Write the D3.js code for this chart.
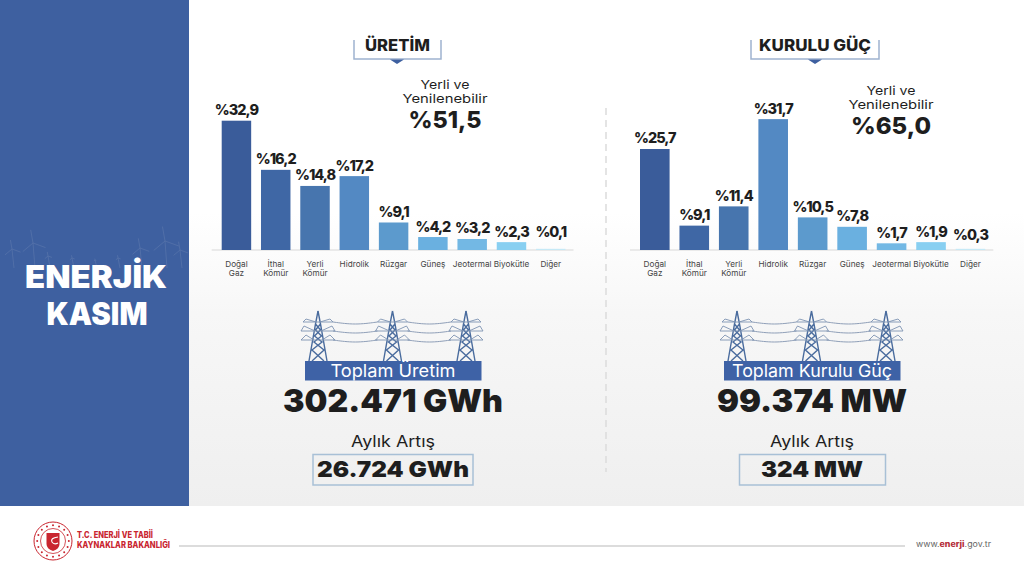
<!DOCTYPE html>
<html>
<head>
<meta charset="utf-8">
<script src="https://cdnjs.cloudflare.com/ajax/libs/d3/7.8.5/d3.min.js"></script>
<style>
  html, body { margin: 0; padding: 0; background: #fff; }
  svg { display: block; }
  text { font-family: Inter, "Open Sans", sans-serif; fill: #1e1e1e; }
  .val { font-weight: 800; font-size: 14.5px; letter-spacing: -1px; text-anchor: middle; }
  .cat { font-size: 8.2px; fill: #444; text-anchor: middle; }
</style>
</head>
<body>
<div id="chart"></div>
<script>
// categories are the same for both charts
var categories = ["Doğal Gaz", "İthal Kömür", "Yerli Kömür", "Hidrolik", "Rüzgar", "Güneş", "Jeotermal", "Biyokütle", "Diğer"];

// printed percentages
var uretimValues = [32.9, 16.2, 14.8, 17.2, 9.1, 4.2, 3.2, 2.3, 0.1];
var kuruluValues = [25.7, 9.1, 11.4, 31.7, 10.5, 7.8, 1.7, 1.9, 0.3];

// bar lengths, the bars in the source are not in proportion to the printed numbers
var uretimBars = [32.9, 20.4, 16.3, 18.8, 7.0, 3.3, 2.8, 2.0, 0.3];
var kuruluBars = [25.7, 6.2, 11.1, 33.3, 8.3, 5.9, 1.7, 2.0, 0.3];

var barColors = ["#3a5c9a", "#3f67a5", "#4775ae", "#5389c3", "#5c9acd", "#6ab0e0", "#73b8e4", "#88cff1", "#c5e9f6"];

var width = 1024, height = 576;
var svg = d3.select("#chart").append("svg").attr("width", width).attr("height", height);
var defs = svg.append("defs");

// Background
var grad = defs.append("linearGradient").attr("id", "bg").attr("x1", 0).attr("y1", 0).attr("x2", 0).attr("y2", 1);
grad.append("stop").attr("offset", "0.42").attr("stop-color", "#ffffff");
grad.append("stop").attr("offset", "0.62").attr("stop-color", "#f7f7f7");
grad.append("stop").attr("offset", "1").attr("stop-color", "#efefef");
svg.append("rect").attr("x", 189).attr("width", 835).attr("height", 506).attr("fill", "url(#bg)");
svg.append("rect").attr("width", 189).attr("height", 506).attr("fill", "#3e60a0");

// Text helper, the width is forced since the original font is not available
function label(parent, str, x, y, size, weight, fit, color) {
    var t = parent.append("text").attr("x", x).attr("y", y).attr("text-anchor", "middle")
        .style("font-size", size + "px").style("font-weight", weight).text(str);
    if (fit) t.attr("textLength", fit).attr("lengthAdjust", "spacingAndGlyphs");
    if (color) t.style("fill", color);
    return t;
}

// Faint wind turbines behind the title
var wm = svg.append("g").attr("stroke", "#5572a9").attr("fill", "none").attr("stroke-width", 0.8);
[[12, 249], [33, 243], [48, 256], [72, 258], [95, 260], [118, 258], [140, 248], [165, 241], [180, 250]].forEach(function (d) {
    wm.append("line").attr("x1", d[0]).attr("y1", d[1]).attr("x2", d[0] + 2).attr("y2", 268);
    [-100, 20, 140].forEach(function (a) {
        var r = a * Math.PI / 180, len = (262 - d[1]) * 0.7;
        wm.append("line").attr("x1", d[0]).attr("y1", d[1])
            .attr("x2", d[0] + len * Math.cos(r)).attr("y2", d[1] + len * Math.sin(r));
    });
});

label(svg, "ENERJİK", 96, 288, 31, 900, 142, "#fff");
label(svg, "KASIM", 97, 325, 31, 900, 101, "#fff");

// Dashed divider
svg.append("line").attr("x1", 606).attr("x2", 606).attr("y1", 108).attr("y2", 472)
    .attr("stroke", "#dcdcdc").attr("stroke-width", 1.5).attr("stroke-dasharray", "7,5");

// One transmission tower
function tower(g, x) {
    var p = g.append("g").attr("transform", "translate(" + x + ",0)").attr("fill", "none");
    var body = "M0,311 L-2.5,324 L-9,361 M0,311 L2.5,324 L9,361 M-2.5,324 L2.5,330 L-3.5,336 L4,342 L-6,350 L6,361 M2.5,324 L-2.5,330 L3.5,336 L-4,342 L6,350 L-6,361";
    p.append("path").attr("d", body).attr("stroke", "#4a6c9e").attr("stroke-width", 1.4);
    var arms = "M-2,322 L-12,319 L-15,322 L15,322 L12,319 L2,322 M-3,331 L-14,326 L-17,331 L17,331 L14,326 L3,331 M-4,340 L-12,335 L-17,340 L17,340 L12,335 L4,340";
    p.append("path").attr("d", arms).attr("stroke", "#7e93b2").attr("stroke-width", 0.9);
}

// Total block under a chart
function totals(cx, towers, caption, total, totalFit, increase, incFit, boxX, boxW) {
    var g = svg.append("g");
    [322, 331, 340].forEach(function (wy) {
        for (var i = 0; i < 2; i++) {
            g.append("path").attr("fill", "none").attr("stroke", "#8f9fb8").attr("stroke-width", 1)
                .attr("d", d3.line().curve(d3.curveBasis)([[towers[i] + 15, wy], [(towers[i] + towers[i + 1]) / 2, wy + 3], [towers[i + 1] - 15, wy]]));
        }
    });
    towers.forEach(function (x) { tower(g, x); });
    g.append("rect").attr("x", cx - 88).attr("y", 361).attr("width", 176.5).attr("height", 19.5).attr("fill", "#3e62a6");
    label(g, caption[0], cx, 377, 17.5, 400, caption[1], "#fff");
    label(g, total, cx, 412, 31, 900, totalFit);
    label(g, "Aylık Artış", cx, 447, 15.5, 400, 84);
    g.append("rect").attr("x", boxX).attr("y", 454.5).attr("width", boxW).attr("height", 30.5)
        .attr("fill", "none").attr("stroke", "#a8c0d6").attr("stroke-width", 1.5);
    label(g, increase, cx, 477, 22, 900, incFit);
}

// Bracket heading with the small arrow
function heading(str, cx, x0, x1, fit) {
    svg.append("path").attr("fill", "none").attr("stroke", "#9fb3cf").attr("stroke-width", 1.5)
        .attr("d", "M" + x0 + ",40V59H" + x1 + "V40");
    svg.append("path").attr("fill", "#3e60a0").attr("d", "M" + (cx - 7) + ",59.5H" + (cx + 7) + "L" + cx + ",64Z");
    label(svg, str, (x0 + x1) / 2, 51, 16, 800, fit);
}

// Bar chart
function barChart(values, bars, range, labelFloor) {
    var x = d3.scaleBand().domain(categories).range(range).paddingInner(0.25).paddingOuter(0);
    var y = d3.scaleLinear().domain([0, 35]).range([250, 250 - 35 * 3.93]);
    var g = svg.append("g");

    var axis = g.append("g").attr("transform", "translate(0,250)").call(d3.axisBottom(x).tickSize(0));
    axis.select(".domain").attr("stroke", "#d8d8d8")
        .attr("d", "M" + (range[0] - 10) + ",0H" + (range[1] + 8));
    axis.selectAll(".tick text").attr("class", "cat").attr("y", 0).attr("dy", null).each(function (d) {
        var el = d3.select(this).text(null);
        d.split(" ").forEach(function (w, i) {
            el.append("tspan").attr("x", 0).attr("y", 16.5 + i * 9).text(w);
        });
    });

    g.selectAll(".bar").data(bars).join("rect").attr("class", "bar")
        .attr("x", function (d, i) { return x(categories[i]); })
        .attr("y", function (d) { return y(d); })
        .attr("width", x.bandwidth())
        .attr("height", function (d) { return y(0) - y(d); })
        .attr("fill", function (d, i) { return barColors[i]; });

    g.selectAll(".val").data(values).join("text").attr("class", "val")
        .attr("x", function (d, i) { return x(categories[i]) + x.bandwidth() / 2; })
        .attr("y", function (d, i) { return Math.min(y(bars[i]) - 5.5, labelFloor); })
        .text(function (d) { return "%" + d.toFixed(1).replace(".", ","); });
}

heading("ÜRETİM", 397, 354, 441, 65);
barChart(uretimValues, uretimBars, [221.7, 565.5], 237);
label(svg, "Yerli ve", 445, 88.5, 12, 400, 49);
label(svg, "Yenilenebilir", 445, 103, 12, 400, 85);
label(svg, "%51,5", 445, 128, 23.5, 800, 73);
totals(393, [318, 392.5, 466], ["Toplam Üretim", 125], "302.471 GWh", 220, "26.724 GWh", 152, 313, 160);

heading("KURULU GÜÇ", 815, 751, 879, 112);
barChart(kuruluValues, kuruluBars, [640, 985.3], 240);
label(svg, "Yerli ve", 891, 94.5, 12, 400, 49);
label(svg, "Yenilenebilir", 891, 109, 12, 400, 85);
label(svg, "%65,0", 891, 134, 23.5, 800, 80);
totals(812, [737, 811.5, 886], ["Toplam Kurulu Güç", 160], "99.374 MW", 190, "324 MW", 102, 739.5, 146);

// Footer
svg.append("line").attr("x1", 179).attr("x2", 905).attr("y1", 546).attr("y2", 546).attr("stroke", "#d0d0d0").attr("stroke-width", 1.5);
var red = "#c9252f";
var logo = svg.append("g").attr("transform", "translate(53,541)");
logo.append("circle").attr("r", 19).attr("fill", "none").attr("stroke", red).attr("stroke-width", 1);
logo.append("circle").attr("r", 12.5).attr("fill", "none").attr("stroke", red).attr("stroke-width", 0.8);
d3.range(16).forEach(function (i) {
    var a = i / 16 * 2 * Math.PI;
    logo.append("circle").attr("cx", 15.8 * Math.cos(a)).attr("cy", 15.8 * Math.sin(a)).attr("r", 1).attr("fill", red);
});
logo.append("path").attr("fill", red).attr("d", "M-6.5,-8H6.5V3Q6.5,8 0,10Q-6.5,8 -6.5,3Z");
logo.append("path").attr("fill", "none").attr("stroke", "#fff").attr("stroke-width", 1.2).attr("d", "M5,-4Q-3,-3 -1,1Q1,4 5,2");

[["T.C. ENERJİ VE TABİİ", 537.5, 76], ["KAYNAKLAR BAKANLIĞI", 548, 93]].forEach(function (d) {
    svg.append("text").attr("x", 77).attr("y", d[1]).attr("textLength", d[2]).attr("lengthAdjust", "spacingAndGlyphs")
        .style("font-size", "8.6px").style("font-weight", 800).style("fill", red).text(d[0]);
});

var site = svg.append("text").attr("x", 916).attr("y", 547).attr("textLength", 75).attr("lengthAdjust", "spacingAndGlyphs")
    .style("font-size", "8px").style("fill", "#666");
site.append("tspan").text("www.");
site.append("tspan").style("font-weight", 800).style("fill", "#b5303a").text("enerji");
site.append("tspan").text(".gov.tr");
</script>
</body>
</html>
